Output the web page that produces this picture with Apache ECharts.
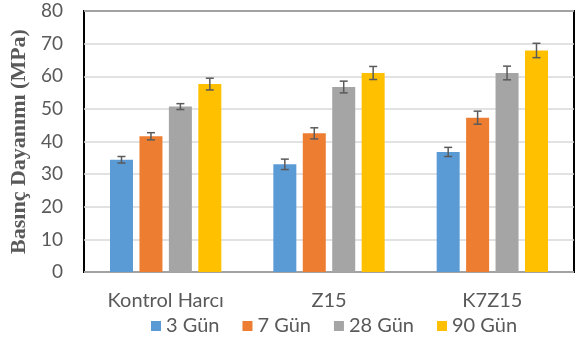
<!DOCTYPE html>
<html>
<head>
<meta charset="utf-8">
<script src="https://cdn.jsdelivr.net/npm/echarts@6/dist/echarts.min.js"></script>
<style>
  html, body { margin: 0; padding: 0; background: #fff; }
  #chart { width: 577px; height: 345px; }
</style>
</head>
<body>
<div id="chart"></div>
<script>
// Mix designs and curing ages
const categories = ['Kontrol Harcı', 'Z15', 'K7Z15'];
const seriesNames = ['3 Gün', '7 Gün', '28 Gün', '90 Gün'];
const yTicks = [0, 10, 20, 30, 40, 50, 60, 70, 80];

// Mean compressive strength (MPa) per curing age, one entry per mix
const gun3 = [34.4, 33.0, 36.8];
const gun7 = [41.6, 42.5, 47.3];
const gun28 = [50.7, 56.7, 61.0];
const gun90 = [57.6, 61.0, 67.9];

// Standard deviation (MPa) per curing age
const err3 = [1.0, 1.6, 1.4];
const err7 = [1.1, 1.7, 2.0];
const err28 = [0.9, 1.8, 2.1];
const err90 = [1.8, 2.0, 2.2];

const values = [gun3, gun7, gun28, gun90];
const errors = [err3, err7, err28, err90];
const colors = ['#5B9BD5', '#ED7D31', '#A5A5A5', '#FFC000'];

const BAR_W = 23;
const BAR_GAP = 0.28;
const textGray = '#595959';
const font = 'Lato, "Open Sans", sans-serif';

const chart = echarts.init(document.getElementById('chart'), null, { renderer: 'canvas' });

const barSeries = values.map((v, i) => ({
  name: seriesNames[i],
  type: 'bar',
  data: v,
  barWidth: BAR_W,
  barGap: (BAR_GAP * 100) + '%',
  itemStyle: { color: colors[i] },
  z: 2
}));

// Error bars drawn on top of each bar, offset to the bar's slot within the group
const errorSeries = values.map((v, i) => ({
  name: seriesNames[i] + ' err',
  type: 'custom',
  data: v.map((m, k) => [k, m - errors[i][k], m + errors[i][k]]),
  z: 5,
  silent: true,
  renderItem: function (params, api) {
    const k = api.value(0);
    const lo = api.coord([k, api.value(1)]);
    const hi = api.coord([k, api.value(2)]);
    const step = BAR_W * (1 + BAR_GAP);
    const x = lo[0] + (i - 1.5) * step;
    const cap = 4;
    const style = { stroke: '#5a5a5a', lineWidth: 1.5 };
    return {
      type: 'group',
      children: [
        { type: 'line', shape: { x1: x, y1: lo[1], x2: x, y2: hi[1] }, style: style },
        { type: 'line', shape: { x1: x - cap, y1: lo[1], x2: x + cap, y2: lo[1] }, style: style },
        { type: 'line', shape: { x1: x - cap, y1: hi[1], x2: x + cap, y2: hi[1] }, style: style }
      ]
    };
  }
}));

chart.setOption({
  animation: false,
  backgroundColor: '#fff',
  grid: {
    left: 84, right: 3, top: 11, bottom: 73,
    show: true, borderColor: '#000', borderWidth: 2, backgroundColor: 'transparent',
    containLabel: false
  },
  legend: {
    data: seriesNames,
    bottom: 4,
    left: 146,
    icon: 'rect',
    itemWidth: 10,
    itemHeight: 10,
    itemGap: 23,
    textStyle: { color: textGray, fontSize: 20, fontFamily: font }
  },
  xAxis: {
    type: 'category',
    data: categories,
    axisLine: { show: false },
    axisTick: { show: false },
    axisLabel: { color: textGray, fontSize: 20, fontFamily: font, margin: 19 },
    splitLine: { show: false }
  },
  yAxis: {
    type: 'value',
    min: yTicks[0],
    max: yTicks[yTicks.length - 1],
    interval: 10,
    name: 'Basınç Dayanımı (MPa)',
    nameLocation: 'middle',
    nameGap: 42,
    nameTextStyle: {
      color: textGray, fontSize: 22, fontWeight: 'bold',
      fontFamily: '"Liberation Serif", "DejaVu Serif", serif'
    },
    axisLine: { show: false },
    axisTick: { show: false },
    axisLabel: { color: textGray, fontSize: 19, fontFamily: font, margin: 21 },
    splitLine: { lineStyle: { color: '#d9d9d9', width: 1.5 } }
  },
  series: barSeries.concat(errorSeries)
});
</script>
</body>
</html>
